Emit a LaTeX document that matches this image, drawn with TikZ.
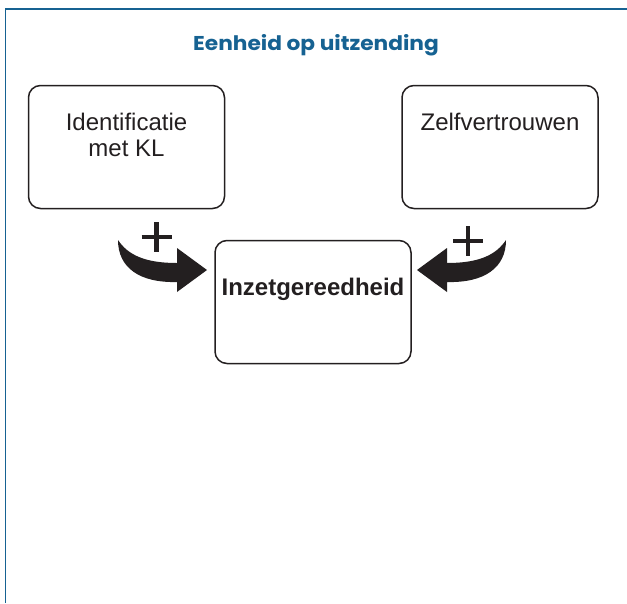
\documentclass[tikz,border=0pt]{standalone}
\usepackage{fontspec}
\setmainfont{Liberation Sans}
\newfontfamily\titlefont{Poppins}
\definecolor{kblue}{RGB}{22,98,146}
\definecolor{ink}{RGB}{35,31,32}
\begin{document}
\begin{tikzpicture}[x=1pt,y=-1pt,
  box/.style={draw=ink, line width=1.5pt, rounded corners=12pt,
    minimum width=196pt, minimum height=123pt, inner sep=0pt},
  boxtext/.style={anchor=base, inner sep=0pt, text=ink,
    font=\fontsize{24pt}{26pt}\selectfont},
  bigarrow/.style={fill=ink, draw=none},
  plussign/.style={draw=ink, line width=4.5pt}]
\useasboundingbox (0,0) rectangle (627,603);
% frame
\draw[kblue, line width=1.6pt] (5.5,603) -- (5.5,9.2) -- (627,9.2);
% title
\node[anchor=base, inner sep=0pt, text=kblue,
  font=\titlefont\bfseries\fontsize{20pt}{22pt}\selectfont] (title) at (316,50) {\scalebox{1.085}[1]{Eenheid op uitzending}};
% boxes
\node[box] (ident) at (126.5,147) {};
\node[box] (zelf) at (500,147) {};
\node[box] (inzet) at (313,302) {};
\node[boxtext] (identA) at (126.5,130) {Identificatie};
\node[boxtext] (identB) at (126.5,156) {met KL};
\node[boxtext] (zelfA) at (500,130) {Zelfvertrouwen};
\node[boxtext, font=\bfseries\fontsize{24pt}{26pt}\selectfont] (inzetA) at (313,295) {Inzetgereedheid};
% left curved arrow
\fill[bigarrow] (118,240) .. controls (128,255) and (145,263) .. (177,263)
  -- (177,248) -- (207,270) -- (177,292) -- (177,282)
  .. controls (140,283) and (118,268) .. (118,240) -- cycle;
% right curved arrow
\fill[bigarrow] (506,240) .. controls (496,255) and (479,263) .. (447,263)
  -- (447,248) -- (417,270) -- (447,292) -- (447,282)
  .. controls (484,283) and (506,268) .. (506,240) -- cycle;
% plus signs
\draw[plussign] (141.5,237) -- (171.5,237) (156.5,222) -- (156.5,252);
\draw[plussign] (453,241) -- (483,241) (468,226) -- (468,256);
\end{tikzpicture}
\end{document}
